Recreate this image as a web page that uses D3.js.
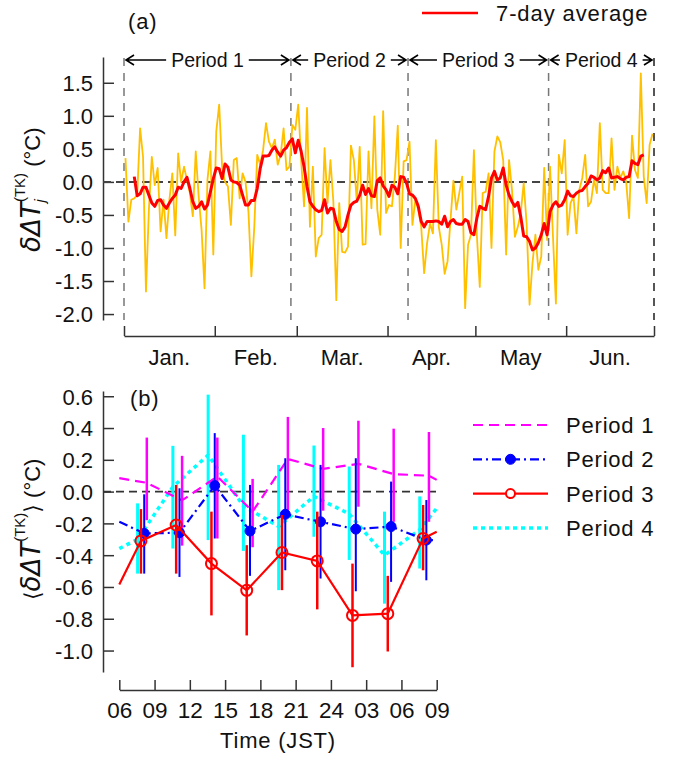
<!DOCTYPE html>
<html>
<head>
<meta charset="utf-8">
<script src="https://cdn.jsdelivr.net/npm/d3@7"></script>
<style>
body { margin: 0; background: #fff; }
svg { display: block; font-family: "Liberation Sans", Arial, sans-serif; fill: #111; }
.axis path, .axis line { stroke-width: 1.5px; }
</style>
</head>
<body>
<div id="chart"></div>
<script>
// ---- data, panel (a) ----
// daily values from 1 Jan (one per day), 7-day running mean from 4 Jan
var dailyStart = "2015-01-01";
var dailyValues = [
	0.36, -0.6, -0.27, -0.25, -0.2, 0.81, 0.38, -1.66, -0.42, 0.38,
	-0.05, 0.21, -0.75, -0.27, -0.85, -0.27, 0.13, -0.81, 0.43, 0.0,
	0.23, 0.03, -0.17, -0.52, 0.46, -0.22, -0.73, -1.61, 0.03, 0.46,
	-1.1, 0.76, 1.17, 0.23, 0.0, -0.07, -0.65, 0.33, 0.36, -0.25,
	0.13, 0.0, -0.45, -1.43, -0.68, 0.41, 0.26, 0.48, 0.89, 0.61,
	0.51, 0.64, 0.26, 0.41, 0.81, 0.18, 0.23, 0.86, 0.79, 1.17,
	0.33, -0.37, 1.12, -0.68, 0.23, -1.13, -0.85, -0.8, 0.51, -0.32,
	0.33, -0.3, -1.79, -0.32, -1.06, -1.07, -0.98, 0.55, 0.33, -0.3,
	0.53, -0.95, -0.94, 0.46, -0.4, 0.99, -0.42, -0.8, 1.07, -0.47,
	-0.35, -0.37, 0.08, 0.85, -1.0, 0.31, 0.33, 0.61, -0.65, -0.27,
	-0.42, -0.68, -1.38, -0.93, -0.63, -0.78, 0.63, -0.68, -0.95, -1.39,
	-1.2, -0.58, 0.02, -0.42, -0.17, 0.08, -1.91, -0.95, -0.8, 0.48,
	-0.8, -1.59, -0.17, -0.15, 0.13, -1.0, 0.46, 0.69, 0.6, 0.33,
	-1.1, 0.33, -0.12, -0.83, -0.68, -0.47, -0.02, -0.63, -1.86, -1.23,
	-0.8, -1.33, -1.13, 0.21, -0.88, 0.23, -0.83, -1.84, 0.41, 0.13,
	0.63, -0.8, -0.32, -0.22, -0.78, -0.12, 0.06, 0.41, -0.37, -0.3,
	0.03, -0.17, 0.89, -0.12, -0.17, -0.17, 0.66, -0.12, 0.23, 0.06,
	0.16, 0.0, -0.55, 0.7, 0.18, 0.06, 1.64, 0.08, -0.32, 0.56,
	0.73
];
var avgStartDay = 3;
var avgValues = [
	0.08, -0.21, -0.18, -0.08, -0.08, -0.2, -0.32, -0.37, -0.28, -0.27,
	-0.35, -0.4, -0.32, -0.25, -0.2, -0.08, -0.1, 0.0, 0.07, -0.1,
	-0.3, -0.4, -0.37, -0.3, -0.41, -0.35, -0.15, 0.05, 0.21, 0.2,
	0.05, 0.27, 0.22, 0.03, 0.0, -0.01, -0.05, -0.2, -0.35, -0.35,
	-0.28, -0.28, -0.1, 0.2, 0.39, 0.39, 0.4, 0.48, 0.53, 0.45,
	0.39, 0.48, 0.52, 0.6, 0.65, 0.44, 0.63, 0.46, 0.23, -0.07,
	-0.3, -0.37, -0.42, -0.45, -0.43, -0.27, -0.47, -0.4, -0.41, -0.6,
	-0.72, -0.75, -0.68, -0.5, -0.35, -0.31, -0.29, -0.2, -0.05, -0.19,
	-0.1, -0.21, -0.22, 0.02, 0.06, -0.06, -0.12, -0.22, -0.05, -0.08,
	-0.18, 0.08, 0.07, -0.02, -0.18, -0.2, -0.25, -0.37, -0.6, -0.68,
	-0.6, -0.6, -0.6, -0.59, -0.6, -0.64, -0.52, -0.68, -0.6, -0.57,
	-0.63, -0.64, -0.64, -0.57, -0.6, -0.77, -0.8, -0.55, -0.37, -0.4,
	-0.42, -0.22, 0.06, 0.16, 0.03, 0.06, 0.21, -0.05, -0.2, -0.3,
	-0.37, -0.31, -0.53, -0.82, -0.83, -0.9, -1.03, -1.0, -0.92, -0.8,
	-0.63, -0.8, -0.45, -0.35, -0.3, -0.37, -0.35, -0.27, -0.14, -0.21,
	-0.22, -0.17, -0.14, -0.13, -0.07, -0.02, 0.09, 0.07, 0.03, 0.06,
	0.17, 0.14, 0.21, 0.06, 0.07, 0.08, 0.05, 0.03, 0.07, 0.08,
	0.32, 0.28, 0.26, 0.39, 0.41
];
var periodBounds = ["2015-01-01", "2015-02-27", "2015-04-08", "2015-05-26", "2015-07-01"];
var periodNames = ["Period 1", "Period 2", "Period 3", "Period 4"];
var monthLabels = ["Jan.", "Feb.", "Mar.", "Apr.", "May", "Jun."];
var yTicksA = [1.5, 1.0, 0.5, 0.0, -0.5, -1.0, -1.5, -2.0];

// ---- data, panel (b) ----
var hours = [8, 11, 14, 17, 20, 23, 26, 29, 32];
var hourTicks = [6, 9, 12, 15, 18, 21, 24, 27, 30, 33];
var hourTickLabels = ["06", "09", "12", "15", "18", "21", "24", "03", "06", "09"];
var yTicksB = [0.6, 0.4, 0.2, 0.0, -0.2, -0.4, -0.6, -0.8, -1.0];

var p1Mean = [0.055, -0.055, 0.095, -0.125, 0.205, 0.143, 0.175, 0.11, 0.10];
var p1Lo = [-0.18, -0.34, -0.295, -0.35, -0.12, -0.12, -0.095, -0.19, -0.19];
var p1Hi = [0.34, 0.225, 0.34, 0.08, 0.47, 0.40, 0.446, 0.396, 0.375];
var p1Ends = [0.085, 0.074];

var p2Mean = [-0.263, -0.259, 0.038, -0.248, -0.143, -0.19, -0.236, -0.22, -0.305];
var p2Lo = [-0.516, -0.537, -0.295, -0.53, -0.495, -0.547, -0.627, -0.568, -0.558];
var p2Hi = [-0.017, 0.021, 0.368, 0.042, 0.21, 0.168, 0.21, 0.063, -0.053];
var p2Ends = [-0.19, -0.305];

var p3Mean = [-0.31, -0.21, -0.453, -0.621, -0.383, -0.436, -0.779, -0.768, -0.295];
var p3Lo = [-0.516, -0.516, -0.779, -0.905, -0.62, -0.741, -1.105, -1.006, -0.495];
var p3Hi = [-0.11, 0.042, -0.126, -0.337, -0.147, -0.126, -0.453, -0.53, -0.084];
var p3Ends = [-0.585, -0.253];

var p4Mean = [-0.30, 0.03, 0.23, -0.09, -0.22, -0.03, -0.14, -0.40, -0.24];
var p4Lo = [-0.516, -0.358, -0.305, -0.373, -0.62, -0.284, -0.43, -0.705, -0.484];
var p4Hi = [-0.074, 0.288, 0.61, 0.358, 0.168, 0.29, 0.158, -0.126, -0.03];
var p4Ends = [-0.358, -0.105];

// ---- styles ----
var yellow = "#ffc000", axisColor = "#333";
var seriesB = [
	{ name: periodNames[0], mean: p1Mean, lo: p1Lo, hi: p1Hi, ends: p1Ends, color: "#ff00ff", dash: "10,6", width: 2.2, barWidth: 2.5, shift: 4, marker: null },
	{ name: periodNames[1], mean: p2Mean, lo: p2Lo, hi: p2Hi, ends: p2Ends, color: "#0000ff", dash: "9,4,2,4", width: 2.2, barWidth: 2, shift: 1.4, marker: "filled" },
	{ name: periodNames[2], mean: p3Mean, lo: p3Lo, hi: p3Hi, ends: p3Ends, color: "#ff0000", dash: null, width: 2.2, barWidth: 2.5, shift: -1.9, marker: "open" },
	{ name: periodNames[3], mean: p4Mean, lo: p4Lo, hi: p4Hi, ends: p4Ends, color: "#00ffff", dash: "4,4", width: 3.5, barWidth: 3, shift: -5.2, marker: null }
];
var drawOrder = [3, 0, 1, 2];

var svg = d3.select("#chart")
	.append("svg")
	.attr("width", 679)
	.attr("height", 760);

// ================= panel (a) =================
var x0 = new Date(periodBounds[0]);
var dayTime = function(d) { return new Date(x0.getTime() + (d + 0.5) * 864e5); };

var xA = d3.scaleUtc()
	.domain([x0, new Date(periodBounds[periodBounds.length - 1])])
	.range([124, 654]);
var yA = d3.scaleLinear()
	.domain([-2.09, 1.89])
	.range([320, 57]);
var axisXA = 103, axisYA = 336;

var gA = svg.append("g");

// y axis, ticks pointing inward
gA.append("g")
	.attr("class", "axis")
	.attr("color", axisColor)
	.attr("transform", "translate(" + axisXA + ",0)")
	.call(d3.axisLeft(yA).tickValues(yTicksA).tickSizeInner(-11).tickSizeOuter(0).tickPadding(10)
		.tickFormat(function(d) { return d.toFixed(1); }))
	.call(function(g) {
		g.selectAll("text").attr("fill", "#111").attr("dy", "0.36em").style("font-size", "22px");
	});

// x axis: month ticks, labels centred between them
var monthStarts = d3.utcMonth.range(xA.domain()[0], xA.domain()[1]).concat([xA.domain()[1]]);
gA.append("g")
	.attr("class", "axis")
	.attr("color", axisColor)
	.attr("transform", "translate(0," + axisYA + ")")
	.call(d3.axisBottom(xA).tickValues(monthStarts).tickSizeInner(-10).tickSizeOuter(0).tickFormat(""));

gA.selectAll(".month")
	.data(monthLabels)
	.enter()
	.append("text")
	.attr("class", "month")
	.attr("x", function(d, i) { return (xA(monthStarts[i]) + xA(monthStarts[i + 1])) / 2; })
	.attr("y", axisYA + 29)
	.attr("text-anchor", "middle")
	.style("font-size", "22px")
	.text(function(d) { return d; });

// period separators
gA.selectAll(".sep")
	.data(periodBounds)
	.enter()
	.append("line")
	.attr("x1", function(d) { return xA(new Date(d)); })
	.attr("x2", function(d) { return xA(new Date(d)); })
	.attr("y1", yA.range()[1] + 1)
	.attr("y2", yA.range()[0])
	.attr("stroke", function(d, i) { return i === periodBounds.length - 1 ? "#555" : "#777"; })
	.attr("stroke-width", function(d, i) { return i === periodBounds.length - 1 ? 2 : 1.5; })
	.attr("stroke-dasharray", "8,7");

// zero line
gA.append("line")
	.attr("x1", axisXA)
	.attr("x2", xA.range()[1])
	.attr("y1", yA(0))
	.attr("y2", yA(0))
	.attr("stroke", "#444")
	.attr("stroke-width", 2)
	.attr("stroke-dasharray", "8,5");

// daily and 7-day average
gA.append("path")
	.datum(dailyValues)
	.attr("fill", "none")
	.attr("stroke", yellow)
	.attr("stroke-width", 1.8)
	.attr("stroke-linejoin", "round")
	.attr("d", d3.line()
		.x(function(d, i) { return xA(dayTime(i)); })
		.y(function(d) { return yA(d); }));

gA.append("path")
	.datum(avgValues)
	.attr("fill", "none")
	.attr("stroke", "#ff0000")
	.attr("stroke-width", 3)
	.attr("stroke-linejoin", "round")
	.attr("d", d3.line()
		.x(function(d, i) { return xA(dayTime(i + avgStartDay)); })
		.y(function(d) { return yA(d); }));

// period arrows
var arrowY = 60;
periodNames.forEach(function(name, i) {
	var a = xA(new Date(periodBounds[i])), b = xA(new Date(periodBounds[i + 1]));
	var mid = (a + b) / 2;
	var t = gA.append("text")
		.attr("x", mid)
		.attr("y", arrowY + 7)
		.attr("text-anchor", "middle")
		.style("font-size", "19.5px")
		.text(name);
	var w = t.node().getComputedTextLength();
	var l0 = a + 2, l1 = mid - w / 2 - 5, r0 = mid + w / 2 + 5, r1 = b - 2;
	var p = d3.path();
	p.moveTo(l1, arrowY); p.lineTo(l0, arrowY);
	p.moveTo(l0 + 8, arrowY - 5); p.lineTo(l0, arrowY); p.lineTo(l0 + 8, arrowY + 5);
	p.moveTo(r0, arrowY); p.lineTo(r1, arrowY);
	p.moveTo(r1 - 8, arrowY - 5); p.lineTo(r1, arrowY); p.lineTo(r1 - 8, arrowY + 5);
	gA.append("path")
		.attr("d", p.toString())
		.attr("fill", "none")
		.attr("stroke", "#000")
		.attr("stroke-width", 1.6);
});

// y label (a)
var labA = gA.append("text")
	.attr("transform", "translate(40,252) rotate(-90)")
	.style("font-size", "22px");
labA.append("tspan").style("font-family", "DejaVu Sans").style("font-style", "italic").style("font-size", "26px").text("δΔT");
labA.append("tspan").style("font-style", "italic").style("font-size", "15px").attr("dy", 5).text("j");
labA.append("tspan").style("font-size", "15px").attr("dx", -3).attr("dy", -20).text("(TK)");
labA.append("tspan").attr("dy", 15).text(" (°C)");

gA.append("text")
	.attr("x", 128)
	.attr("y", 29)
	.style("font-size", "22px")
	.style("letter-spacing", "0.8px")
	.text("(a)");

// legend (a)
gA.append("line")
	.attr("x1", 422).attr("x2", 478)
	.attr("y1", 13).attr("y2", 13)
	.attr("stroke", "#ff0000")
	.attr("stroke-width", 2.5);
gA.append("text")
	.attr("x", 496)
	.attr("y", 21)
	.style("font-size", "22px")
	.style("letter-spacing", "0.9px")
	.text("7-day average");

// ================= panel (b) =================
var xB = d3.scaleLinear()
	.domain([hourTicks[0], hourTicks[hourTicks.length - 1]])
	.range([119.3, 436.7]);
var yB = d3.scaleLinear()
	.domain([-1.135, 0.633])
	.range([672, 391]);
var axisXB = 103, axisYB = 690;

var gB = svg.append("g");

gB.append("g")
	.attr("class", "axis")
	.attr("color", axisColor)
	.attr("transform", "translate(" + axisXB + ",0)")
	.call(d3.axisLeft(yB).tickValues(yTicksB).tickSizeInner(-11).tickSizeOuter(0).tickPadding(10)
		.tickFormat(function(d) { return d.toFixed(1); }))
	.call(function(g) {
		g.selectAll("text").attr("fill", "#111").attr("dy", "0.36em").style("font-size", "22px");
	});

gB.append("g")
	.attr("class", "axis")
	.attr("color", axisColor)
	.attr("transform", "translate(0," + axisYB + ")")
	.call(d3.axisBottom(xB).tickValues(hourTicks).tickSizeInner(-10).tickSizeOuter(0).tickPadding(12)
		.tickFormat(function(d, i) { return hourTickLabels[i]; }))
	.call(function(g) {
		g.selectAll("text").attr("fill", "#111").style("font-size", "22.5px");
	});

gB.append("text")
	.attr("x", (xB.range()[0] + xB.range()[1]) / 2)
	.attr("y", 748)
	.attr("text-anchor", "middle")
	.style("font-size", "22px")
	.style("letter-spacing", "0.8px")
	.text("Time (JST)");

// zero line
gB.append("line")
	.attr("x1", axisXB)
	.attr("x2", xB.range()[1])
	.attr("y1", yB(0))
	.attr("y2", yB(0))
	.attr("stroke", "#333")
	.attr("stroke-width", 1.6)
	.attr("stroke-dasharray", "8,5");

var lineB = d3.line()
	.x(function(d) { return d.x; })
	.y(function(d) { return yB(d.v); });

drawOrder.forEach(function(k) {
	var s = seriesB[k];
	var pts = hours.map(function(h, i) { return { x: xB(h) + s.shift, v: s.mean[i], lo: s.lo[i], hi: s.hi[i] }; });
	var linePts = [{ x: xB.range()[0], v: s.ends[0] }].concat(pts, [{ x: xB.range()[1], v: s.ends[1] }]);
	var g = gB.append("g");

	g.selectAll(".bar")
		.data(pts)
		.enter()
		.append("line")
		.attr("x1", function(d) { return d.x; })
		.attr("x2", function(d) { return d.x; })
		.attr("y1", function(d) { return yB(d.lo); })
		.attr("y2", function(d) { return yB(d.hi); })
		.attr("stroke", s.color)
		.attr("stroke-width", s.barWidth);

	g.append("path")
		.datum(linePts)
		.attr("fill", "none")
		.attr("stroke", s.color)
		.attr("stroke-width", s.width)
		.attr("stroke-dasharray", s.dash)
		.attr("d", lineB);

	if (s.marker) {
		g.selectAll(".mk")
			.data(pts)
			.enter()
			.append("circle")
			.attr("cx", function(d) { return d.x; })
			.attr("cy", function(d) { return yB(d.v); })
			.attr("r", s.marker === "filled" ? 5 : 5.5)
			.attr("fill", s.marker === "filled" ? s.color : "none")
			.attr("stroke", s.color)
			.attr("stroke-width", s.marker === "filled" ? 1 : 2);
	}
});

// y label (b)
var labB = gB.append("text")
	.attr("transform", "translate(40,600) rotate(-90)")
	.style("font-size", "22px");
labB.append("tspan").style("font-family", "DejaVu Sans").style("font-size", "22px").text("⟨");
labB.append("tspan").style("font-family", "DejaVu Sans").style("font-style", "italic").style("font-size", "26px").text("δΔT");
labB.append("tspan").style("font-size", "15px").attr("dy", -15).text("(TK)");
labB.append("tspan").style("font-family", "DejaVu Sans").attr("dy", 15).text("⟩");
labB.append("tspan").text(" (°C)");

gB.append("text")
	.attr("x", 130)
	.attr("y", 406)
	.style("font-size", "22px")
	.style("letter-spacing", "0.8px")
	.text("(b)");

// legend (b)
var legB = gB.append("g");
seriesB.forEach(function(s, i) {
	var ly = 425 + i * 34.3;
	legB.append("line")
		.attr("x1", 473).attr("x2", 548)
		.attr("y1", ly).attr("y2", ly)
		.attr("stroke", s.color)
		.attr("stroke-width", s.width)
		.attr("stroke-dasharray", s.dash);
	if (s.marker) {
		legB.append("circle")
			.attr("cx", 510.5)
			.attr("cy", ly)
			.attr("r", s.marker === "filled" ? 5 : 4.5)
			.attr("fill", s.marker === "filled" ? s.color : "#fff")
			.attr("stroke", s.color)
			.attr("stroke-width", s.marker === "filled" ? 1 : 2);
	}
	legB.append("text")
		.attr("x", 566)
		.attr("y", ly + 8)
		.style("font-size", "22px")
		.style("letter-spacing", "0.8px")
		.text(s.name);
});
</script>
</body>
</html>
